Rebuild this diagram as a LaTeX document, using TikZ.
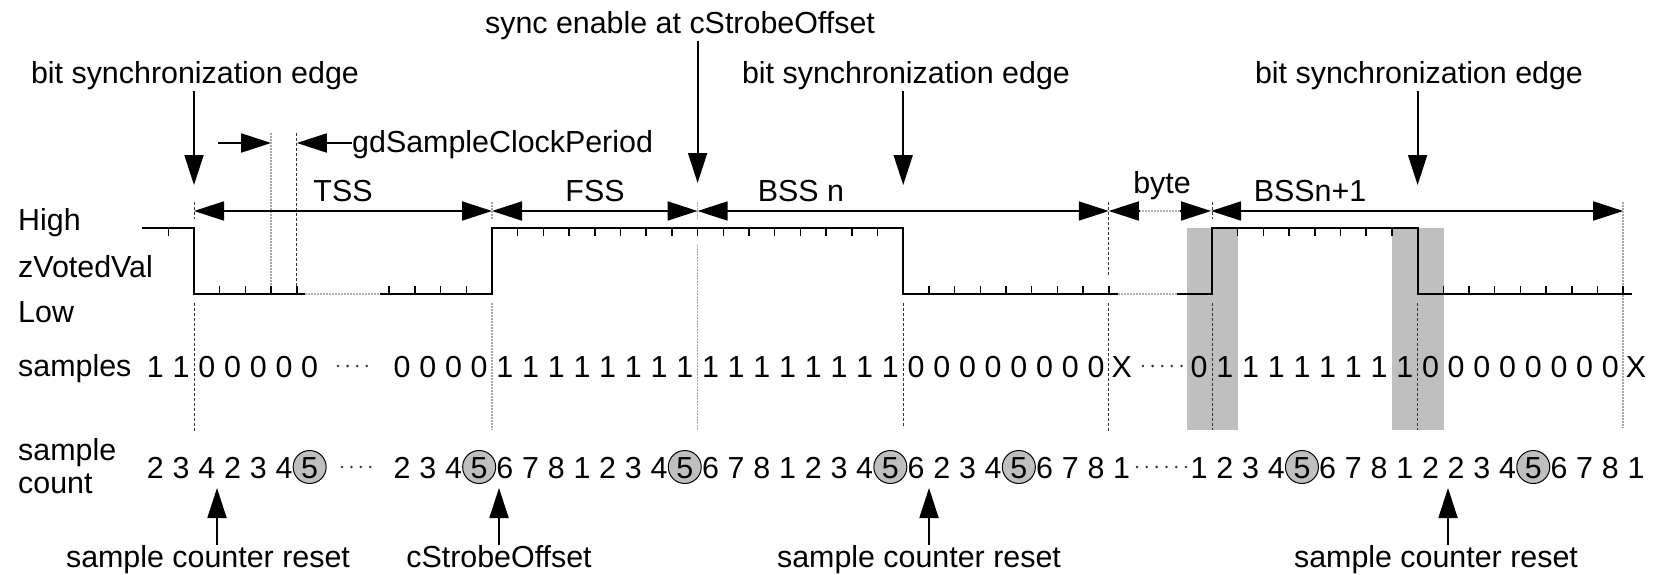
\documentclass[tikz,border=0pt]{standalone}
\usepackage{fontspec}
\setmainfont{Liberation Sans}
\usetikzlibrary{arrows.meta}
\begin{document}
\begin{tikzpicture}[x=1pt,y=-1pt,
  font=\fontsize{30.4}{36}\selectfont,
  txt/.style={inner sep=0pt, anchor=base},
  lbl/.style={inner sep=0pt, anchor=base west},
  dig/.style={inner sep=0pt, anchor=base},
  sig/.style={line width=2.2pt, line join=miter},
  tk/.style={line width=1.5pt},
  gapline/.style={line width=2pt, black!30, dash pattern=on 2pt off 1pt},
  arr/.style={line width=1.8pt, -{Triangle[length=30pt,width=19pt]}},
  dimarr/.style={line width=1.8pt, {Triangle[length=30pt,width=19pt]}-{Triangle[length=30pt,width=19pt]}},
  vdash/.style={line width=1pt, black!80, dash pattern=on 3pt off 2pt},
  vgray/.style={line width=1.5pt, black!35, dash pattern=on 2pt off 1pt},
  shadebox/.style={fill=black!25, draw=none},
  circ5/.style={circle, draw, line width=1pt, fill=black!25, minimum size=33pt, inner sep=0pt},
  dotmark/.style={fill=black!80, draw=none}
]
\useasboundingbox (0,0) rectangle (1656,575);
\def\s{25.7}

% shaded sample windows
\fill[shadebox] (1187,228) rectangle (1238,430);
\fill[shadebox] (1392,228) rectangle (1444,430);

% left labels
\node[lbl] (lhigh) at (18,230) {High};
\node[lbl] (lzv) at (18,277) {zVotedVal};
\node[lbl] (llow) at (18,322) {Low};
\node[lbl] (lsam) at (18,376) {samples};
\node[lbl] (lsc1) at (18,460) {sample};
\node[lbl] (lsc2) at (18,493) {count};

% top labels
\node[txt] (sync) at (680,34) {sync enable at cStrobeOffset};
\node[txt] (bse1) at (195,84) {bit synchronization edge};
\node[txt] (bse2) at (906,84) {bit synchronization edge};
\node[txt] (bse3) at (1419,84) {bit synchronization edge};
\node[lbl] (gd) at (352,153) {gdSampleClockPeriod};
\node[txt] (tss) at (343,201) {TSS};
\node[txt] (fss) at (595,201) {FSS};
\node[txt] (bssn) at (801,201) {BSS n};
\node[txt] (byte) at (1162,193) {byte};
\node[txt] (bssn1) at (1310,201) {BSSn+1};

% boundary coordinates on the dimension line
\coordinate (d0) at (194,211);
\coordinate (d1) at (492,211);
\coordinate (d2) at ({492+8*\s},211);
\coordinate (d3) at ({492+24*\s},211);
\coordinate (d4) at (1211,211);
\coordinate (d5) at ({1212+16*\s},211);

% arrow tips for top arrows
\coordinate (e1) at (194,185);
\coordinate (e2) at ({492+8*\s},183);
\coordinate (e3) at ({492+16*\s},185);
\coordinate (e4) at ({1212+8*\s},185);
\draw[arr] (bse1.south -| e1) -- (e1);
\draw[arr] (sync.south -| e2) -- (e2);
\draw[arr] (bse2.south -| e3) -- (e3);
\draw[arr] (bse3.south -| e4) -- (e4);

% gdSampleClockPeriod arrows
\coordinate (g0) at (218,143);
\coordinate (g1) at ({194+3*\s},143);
\coordinate (g2) at ({194+4*\s},143);
\draw[arr] (g0) -- (g1);
\draw[arr] (gd.west |- g2) -- (g2);
\draw[vgray] ({194+3*\s},133) -- ({194+3*\s},294);
\draw[vdash] ({194+4*\s},133) -- ({194+4*\s},294);

% dimension lines
\draw[dimarr] (d0) -- (d1);
\draw[dimarr] (d1) -- (d2);
\draw[dimarr] (d2) -- (d3);
\draw[gapline] ([xshift=30pt]d3) -- ([xshift=-30pt]d4);
\draw[arr] ([xshift=31pt]d3) -- (d3);
\draw[arr] ([xshift=-31pt]d4) -- (d4);
\draw[dimarr] (d4) -- (d5);

% vertical markers
\draw[vdash] (194,202) -- (194,219);
\draw[vdash] (194,303) -- (194,432);
\draw[vgray] (492,202) -- (492,220);
\draw[vgray] (492,303) -- (492,430);
\draw[vgray] ({492+8*\s},202) -- ({492+8*\s},220);
\draw[vgray] ({492+8*\s},245) -- ({492+8*\s},430);
\draw[vdash] ({492+16*\s},303) -- ({492+16*\s},428);
\draw[vdash] ({492+24*\s},202) -- ({492+24*\s},277);
\draw[vdash] ({492+24*\s},303) -- ({492+24*\s},433);
\draw[vdash] (1212,202) -- (1212,219);
\draw[vdash] (1212,303) -- (1212,430);
\draw[vdash] ({1212+8*\s},303) -- ({1212+8*\s},430);
\draw[vgray] ({1212+16*\s},202) -- ({1212+16*\s},428);

% waveform
\draw[sig] (142,228) -- (194,228) -- (194,294) -- (305,294);
\draw[gapline] (305,294) -- (380,294);
\draw[sig] (380,294) -- (492,294) -- (492,228) -- ({492+16*\s},228) -- ({492+16*\s},294) -- (1118,294);
\draw[gapline] (1118,294) -- (1177,294);
\draw[sig] (1177,294) -- (1212,294) -- (1212,228) -- ({1212+8*\s},228) -- ({1212+8*\s},294) -- (1632,294);

% ticks
\draw[tk] ({194-\s},228) -- ++(0,8);
\foreach \k in {1,...,4} \draw[tk] ({194+\k*\s},294) -- ++(0,-8);
\foreach \k in {1,...,4} \draw[tk] ({492-\k*\s},294) -- ++(0,-8);
\foreach \k in {1,...,15} \draw[tk] ({492+\k*\s},228) -- ++(0,8);
\foreach \k in {17,...,24} \draw[tk] ({492+\k*\s},294) -- ++(0,-8);
\foreach \k in {1,...,7} \draw[tk] ({1212+\k*\s},228) -- ++(0,8);
\foreach \k in {9,...,16} \draw[tk] ({1212+\k*\s},294) -- ++(0,-8);

% samples row
\foreach \c [count=\i from 0] in {1,1}
  \node[dig] (sa\i) at ({194+(\i-1.5)*\s},377) {\c};
\foreach \c [count=\i from 0] in {0,0,0,0,0}
  \node[dig] (sb\i) at ({194+(\i+0.5)*\s},377) {\c};
\foreach \c [count=\i from 0] in {0,0,0,0}
  \node[dig] (sc\i) at ({492+(\i-3.5)*\s},377) {\c};
\foreach \c [count=\i from 0] in {1,1,1,1,1,1,1,1,1,1,1,1,1,1,1,1,0,0,0,0,0,0,0,0,X}
  \node[dig] (sd\i) at ({492+(\i+0.5)*\s},377) {\c};
\foreach \c [count=\i from 0] in {0,1,1,1,1,1,1,1,1,0,0,0,0,0,0,0,0,X}
  \node[dig] (se\i) at ({1212+(\i-0.5)*\s},377) {\c};

% count row
\newcommand{\cnt}[2]{%
  \ifnum#2=5 \node[circ5] at (#1,467) {};\fi
  \node[dig] at (#1,478) {#2};}
\foreach \c [count=\i from 0] in {2,3}
  {\cnt{{194+(\i-1.5)*\s}}{\c}}
\foreach \c [count=\i from 0] in {4,2,3,4,5}
  {\cnt{{194+(\i+0.5)*\s}}{\c}}
\foreach \c [count=\i from 0] in {2,3,4,5}
  {\cnt{{492+(\i-3.5)*\s}}{\c}}
\foreach \c [count=\i from 0] in {6,7,8,1,2,3,4,5,6,7,8,1,2,3,4,5,6,2,3,4,5,6,7,8,1}
  {\cnt{{492+(\i+0.5)*\s}}{\c}}
\foreach \c [count=\i from 0] in {1,2,3,4,5,6,7,8,1,2,2,3,4,5,6,7,8,1}
  {\cnt{{1212+(\i-0.5)*\s}}{\c}}

% dot leaders
\foreach \k in {0,...,3} \fill[dotmark] ({338+\k*9.6},366) circle (1.4);
\foreach \k in {0,...,4} \fill[dotmark] ({1143+\k*9.6},366) circle (1.4);
\foreach \k in {0,...,3} \fill[dotmark] ({342+\k*9.4},467) circle (1.4);
\foreach \k in {0,...,5} \fill[dotmark] ({1137+\k*9.8},467) circle (1.4);

% bottom labels and arrows
\node[txt] (bl1) at (208,567) {sample counter reset};
\node[txt] (bl2) at (499,567) {cStrobeOffset};
\node[txt] (bl3) at (919,567) {sample counter reset};
\node[txt] (bl4) at (1436,567) {sample counter reset};
\coordinate (r1) at (217,488);
\coordinate (r2) at (499,488);
\coordinate (r3) at (929,488);
\coordinate (r4) at (1448,488);
\draw[arr] (bl1.north -| r1) -- (r1);
\draw[arr] (bl2.north -| r2) -- (r2);
\draw[arr] (bl3.north -| r3) -- (r3);
\draw[arr] (bl4.north -| r4) -- (r4);
\end{tikzpicture}
\end{document}
